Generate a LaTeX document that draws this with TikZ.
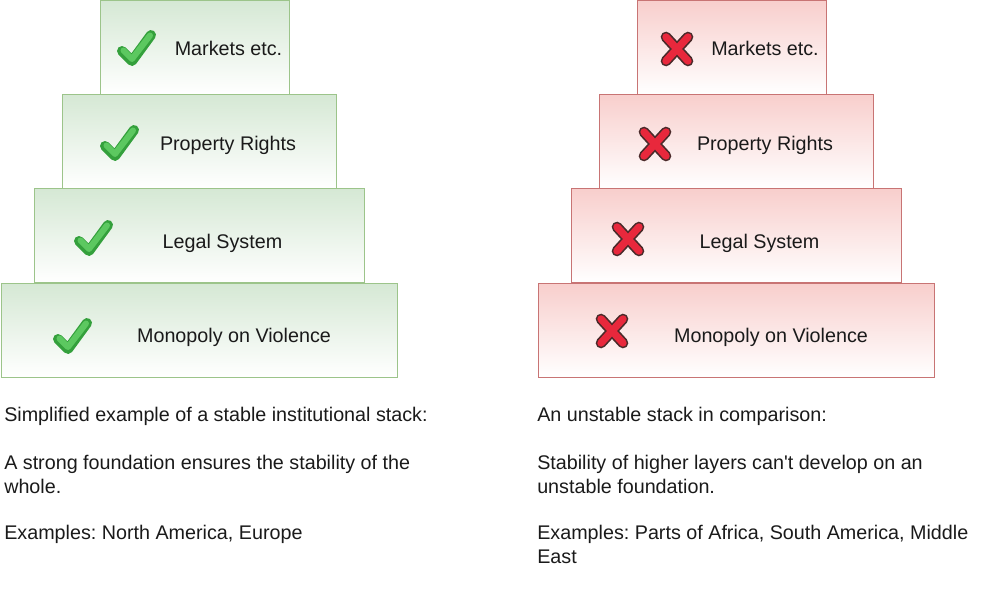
\documentclass[tikz,border=0pt]{standalone}
\usepackage{fontspec}
\setmainfont{Liberation Sans}
\font\rawsans="Liberation Sans" at 14.8pt
\definecolor{gfill}{HTML}{D5E8D4}
\definecolor{gline}{HTML}{9CC48A}
\definecolor{rfill}{HTML}{F8CECC}
\definecolor{rline}{HTML}{C87474}
\definecolor{chkdark}{HTML}{34A03C}
\definecolor{chklight}{HTML}{5CC860}
\definecolor{xdark}{HTML}{4A2A2A}
\definecolor{xred}{HTML}{E8283C}
\definecolor{txt}{HTML}{1A1A1A}
\frenchspacing
\begin{document}
\begin{tikzpicture}[x=0.75pt,y=-0.75pt,
  layer/.style={draw, line width=0.75pt, minimum height=70.5pt, inner sep=0pt},
  greenbox/.style={layer, draw=gline, top color=gfill, bottom color=white},
  redbox/.style={layer, draw=rline, top color=rfill, bottom color=white},
  lbl/.style={anchor=base, inner sep=0pt, text=txt, font=\fontsize{14.8}{18}\selectfont},
  desc/.style={anchor=base west, inner sep=0pt, text=txt, font=\fontsize{14.8}{18}\selectfont},
  pics/checkmark/.style={code={
    \draw[chkdark, line width=7.5pt, line cap=round, line join=round] (-15,3) -- (-5,13) -- (14,-13);
    \draw[chklight, line width=4.5pt, line cap=round, line join=round] (-13.5,2.5) -- (-5,11) -- (13,-12.5);
  }},
  pics/crossmark/.style={code={
    \draw[xdark, line width=8pt, line cap=round] (-11,-12) -- (11,12) (11,-12) -- (-11,12);
    \draw[xred, line width=5.5pt, line cap=round] (-11,-12) -- (11,12) (11,-12) -- (-11,12);
  }}
]
\useasboundingbox (0,0) rectangle (1000,601);

% left stack
\node[greenbox, minimum width=297pt] (lmono) at (199,330) {};
\node[greenbox, minimum width=247.5pt] (llegal) at (199,235.5) {};
\node[greenbox, minimum width=205.5pt] (lprop) at (199,141) {};
\node[greenbox, minimum width=141.75pt] (lmark) at (194.5,47) {};

% right stack
\node[redbox, minimum width=297pt] (rmono) at (736,330) {};
\node[redbox, minimum width=247.5pt] (rlegal) at (736,235.5) {};
\node[redbox, minimum width=205.5pt] (rprop) at (736,141) {};
\node[redbox, minimum width=141.75pt] (rmark) at (731.5,47) {};

% labels left
\node[lbl] (tlmark) at (228.5,55) {Markets etc.};
\node[lbl] (tlprop) at (228,150) {Property Rights};
\node[lbl] (tllegal) at (222.5,248) {Legal System};
\node[lbl] (tlmono) at (234,342) {Monopoly on Violence};

% labels right
\node[lbl] (trmark) at (765,55) {Markets etc.};
\node[lbl] (trprop) at (765,150) {Property Rights};
\node[lbl] (trlegal) at (759.5,248) {Legal System};
\node[lbl] (trmono) at (771,342) {Monopoly on Violence};

% marks
\pic at (137,48) {checkmark};
\pic at (120,143) {checkmark};
\pic at (94,238) {checkmark};
\pic at (73,336) {checkmark};

\pic at (677,49) {crossmark};
\pic at (655,144) {crossmark};
\pic at (628,239) {crossmark};
\pic at (612,331) {crossmark};

% descriptions left
\node[desc] (dl1) at (4,421) {Simplified example of a stable institutional stack:};
\node[desc] (dl2) at (4,469) {A strong foundation ensures the stability of the};
\node[desc] (dl3) at (4,493) {whole.};
\node[desc] (dl4) at (4,539) {Examples: North America, Europe};

% descriptions right
\node[desc] (dr1) at (537,421) {An unstable stack in comparison:};
\node[desc] (dr2) at (537,469) {Stability of higher layers can{\rawsans '}t develop on an};
\node[desc] (dr3) at (537,493) {unstable foundation.};
\node[desc] (dr4) at (537,539) {Examples: Parts of Africa, South America, Middle};
\node[desc] (dr5) at (537,563) {East};
\end{tikzpicture}
\end{document}
